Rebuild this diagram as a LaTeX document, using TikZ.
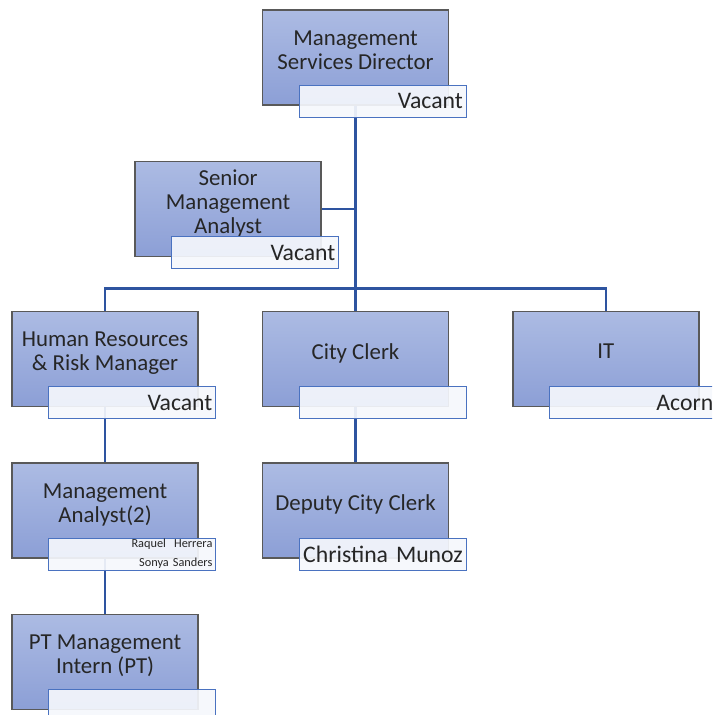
\documentclass[tikz,border=0pt]{standalone}
\usepackage{fontspec}
\setmainfont{Carlito}
\usetikzlibrary{positioning,backgrounds}
\definecolor{linkblue}{HTML}{2E54A0}
\definecolor{boxtop}{HTML}{ACBBE3}
\definecolor{boxbot}{HTML}{8C9FD6}
\definecolor{boxedge}{HTML}{595959}
\definecolor{nameedge}{HTML}{4A72C0}
\definecolor{namefill}{HTML}{F5F7FC}
\tikzset{
	post/.style={draw=boxedge, line width=0.8pt, top color=boxtop, bottom color=boxbot,
		minimum width=3.72cm, minimum height=1.9cm, align=center, text depth=0.3cm,
		font=\fontsize{13}{13.7}\selectfont, text=black!85},
	namebox/.style={draw=nameedge, line width=0.6pt, fill=namefill, fill opacity=0.92, text opacity=1,
		anchor=north west, xshift=0.74cm, yshift=0.42cm, inner xsep=2pt, inner ysep=0pt,
		minimum height=0.64cm, text width=3.34cm-4pt, align=right,
		font=\fontsize{13.5}{14}\selectfont, text=black!85},
	link/.style={draw=linkblue, line width=1.4pt},
}
\begin{document}
\begin{tikzpicture}
	\clip (0,0) rectangle (14.24,-14.30);
	%% top level
	\node[post] (msd) at (7.11,-1.15) {Management\\Services Director};
	\node[post, below left=1.1cm and -1.2cm of msd] (sma) {Senior\\Management\\Analyst};
	%% divisions
	\node[post, below=4.1cm of msd] (clerk) {City Clerk};
	\node[post, left=1.26cm of clerk] (hr) {Human Resources\\\& Risk Manager};
	\node[post, right=1.26cm of clerk] (it) {IT};
	\node[post, below=1.1cm of hr] (ma) {Management\\Analyst(2)};
	\node[post, below=1.1cm of clerk] (dep) {Deputy City Clerk};
	\node[post, below=1.1cm of ma] (pt) {PT Management\\Intern (PT)};
	%% name boxes
	\node[namebox] (msdN) at (msd.south west) {Vacant};
	\node[namebox] (smaN) at (sma.south west) {Vacant};
	\node[namebox] (hrN) at (hr.south west) {Vacant};
	\node[namebox] (clerkN) at (clerk.south west) {};
	\node[namebox] (itN) at (it.south west) {Acorn};
	\node[namebox, font=\fontsize{7}{11}\selectfont] (maN) at (ma.south west) {Raquel~~Herrera\\Sonya Sanders};
	\node[namebox] (depN) at (dep.south west) {Christina Munoz};
	\node[namebox] (ptN) at (pt.south west) {};
	\coordinate[above=0.44cm of clerk.north] (bar);
	%% connectors
	\begin{scope}[on background layer]
		\draw[link] (msd.south) -- (clerk.north);
		\draw[link] (sma.east) -- (sma.east -| msd.south);
		\draw[link] (hr.north) |- (bar) -| (it.north);
		\draw[link] (hr.south) -- (ma.north);
		\draw[link] (ma.south) -- (pt.north);
		\draw[link] (clerk.south) -- (dep.north);
	\end{scope}
\end{tikzpicture}
\end{document}
